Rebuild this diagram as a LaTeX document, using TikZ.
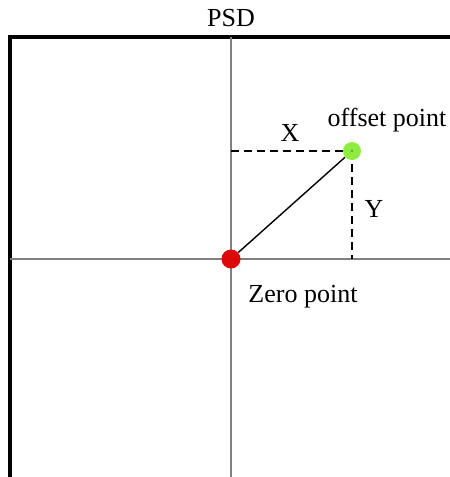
\documentclass[tikz,border=0pt]{standalone}
\usepackage{fontspec}
\setmainfont{Liberation Serif}
\definecolor{zerored}{RGB}{222,8,8}
\definecolor{offsetgreen}{RGB}{142,236,62}
\begin{document}
\begin{tikzpicture}[
  x=0.5pt, y=-0.5pt,
  axis/.style={draw=gray, line width=1pt},
  frame/.style={draw=black, line width=1.6pt},
  offset/.style={draw=black, line width=1.4pt, dash pattern=on 4pt off 2.5pt},
  dot/.style={circle, inner sep=0pt, minimum size=9.5pt},
  lbl/.style={font=\fontsize{13}{15}\selectfont, inner sep=0pt}
]
\useasboundingbox (0,0) rectangle (450,477);
\clip (0,0) rectangle (450,477);
\node[lbl] (psd) at (231,18) {PSD};

\draw[frame] (10,490) -- (10,37) -- (460,37);
\coordinate (top) at (231,37);
\coordinate (bottom) at (231,490);
\coordinate (left) at (10,259);
\coordinate (right) at (460,259);
\draw[axis] (top) -- (bottom);
\draw[axis] (left) -- (right);

% dashed offsets first, dots on top
\coordinate (xaxis) at (231,151);
\coordinate (yfoot) at (352,259);
\coordinate (offsetpos) at (352,151);
\draw[offset] (xaxis) -- (offsetpos);
\draw[offset] (offsetpos) -- (yfoot);

\node[dot, fill=zerored] (zero) at (231,259) {};
\node[dot, fill=offsetgreen, minimum size=9pt] (offset) at (offsetpos) {};
\draw[line width=0.7pt] (zero) -- (offset);
\fill[black!70] (offset.center) circle (0.4pt);

\node[lbl] (xlabel) at (290,133) {X};
\node[lbl] (ylabel) at (374,209) {Y};
\node[lbl] (offsetlabel) at (387,120) {offset point};
\node[lbl] (zerolabel) at (303,297) {Zero point};
\end{tikzpicture}
\end{document}
